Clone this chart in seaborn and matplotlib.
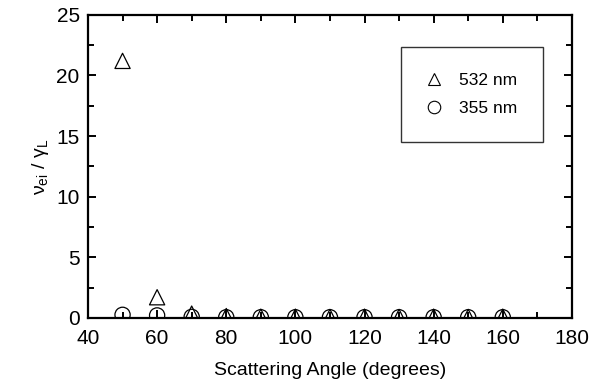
import matplotlib
matplotlib.use("Agg")
import matplotlib.pyplot as plt
import seaborn as sns
import pandas as pd
from matplotlib.ticker import MultipleLocator
from matplotlib.lines import Line2D

angles = [50, 60, 70, 80, 90, 100, 110, 120, 130, 140, 150, 160]
ratio_532 = [21.2, 1.7, 0.35, 0.15, 0.1, 0.1, 0.08, 0.1, 0.08, 0.1, 0.08, 0.1]
angles_355 = [50, 60, 70, 80, 90, 100, 110, 120, 130, 140, 150, 160]
ratio_355 = [0.25, 0.2, 0.08, 0.05, 0.05, 0.05, 0.05, 0.05, 0.05, 0.05, 0.05, 0.05]

df = pd.DataFrame({
    "angle": angles + angles_355,
    "ratio": ratio_532 + ratio_355,
    "series": ["532 nm"] * len(angles) + ["355 nm"] * len(angles_355),
})

sns.set_style("ticks")
plt.rcParams["font.family"] = ["Liberation Sans", "DejaVu Sans"]
plt.rcParams["mathtext.fontset"] = "custom"
plt.rcParams["mathtext.rm"] = "Liberation Sans"
plt.rcParams["mathtext.it"] = "Liberation Sans"
plt.rcParams["text.color"] = "black"
plt.rcParams["axes.labelcolor"] = "black"
plt.rcParams["xtick.color"] = "black"
plt.rcParams["ytick.color"] = "black"

fig = plt.figure(figsize=(6.11, 3.90), dpi=100)
ax = fig.add_axes([0.144, 0.185, 0.792, 0.777])

sns.scatterplot(data=df, x="angle", y="ratio", style="series",
                markers={"532 nm": "^", "355 nm": "o"},
                hue="series", palette={"532 nm": "black", "355 nm": "black"},
                s=120, linewidth=0.9, ax=ax, legend=False)
for coll in ax.collections:
    coll.set_facecolor("none")
    coll.set_edgecolor("black")

ax.set_xlim(40, 180)
ax.set_ylim(0, 25)
ax.xaxis.set_major_locator(MultipleLocator(20))
ax.xaxis.set_minor_locator(MultipleLocator(10))
ax.yaxis.set_major_locator(MultipleLocator(5))
ax.yaxis.set_minor_locator(MultipleLocator(2.5))
ax.tick_params(which="both", direction="in", top=True, right=True, width=1.4,
               colors="black")
ax.tick_params(which="major", length=6, labelsize=15)
ax.tick_params(axis="x", which="major", pad=8)
ax.tick_params(axis="y", which="major", pad=6)
ax.tick_params(which="minor", length=4)
for sp in ax.spines.values():
    sp.set_linewidth(1.6)
    sp.set_color("black")

ax.set_xlabel("Scattering Angle (degrees)", fontsize=14, labelpad=10)
ax.set_ylabel(r"$\mathregular{\nu_{ei}}$ / $\mathregular{\gamma_L}$", fontsize=14, labelpad=4)

handles = [Line2D([], [], marker="^", ls="none", mfc="none", mec="black", ms=9, mew=0.8),
           Line2D([], [], marker="o", ls="none", mfc="none", mec="black", ms=9, mew=0.8)]
leg = ax.legend(handles, ["532 nm", "355 nm"], loc="upper right",
                bbox_to_anchor=(0.94, 0.895), frameon=True, fancybox=False,
                edgecolor="black", fontsize=12.5, borderpad=1.5, labelspacing=0.75,
                handlelength=0.8, handletextpad=1.0, borderaxespad=0)
leg.get_frame().set_linewidth(1.0)

fig.savefig("out.png", dpi=100)
